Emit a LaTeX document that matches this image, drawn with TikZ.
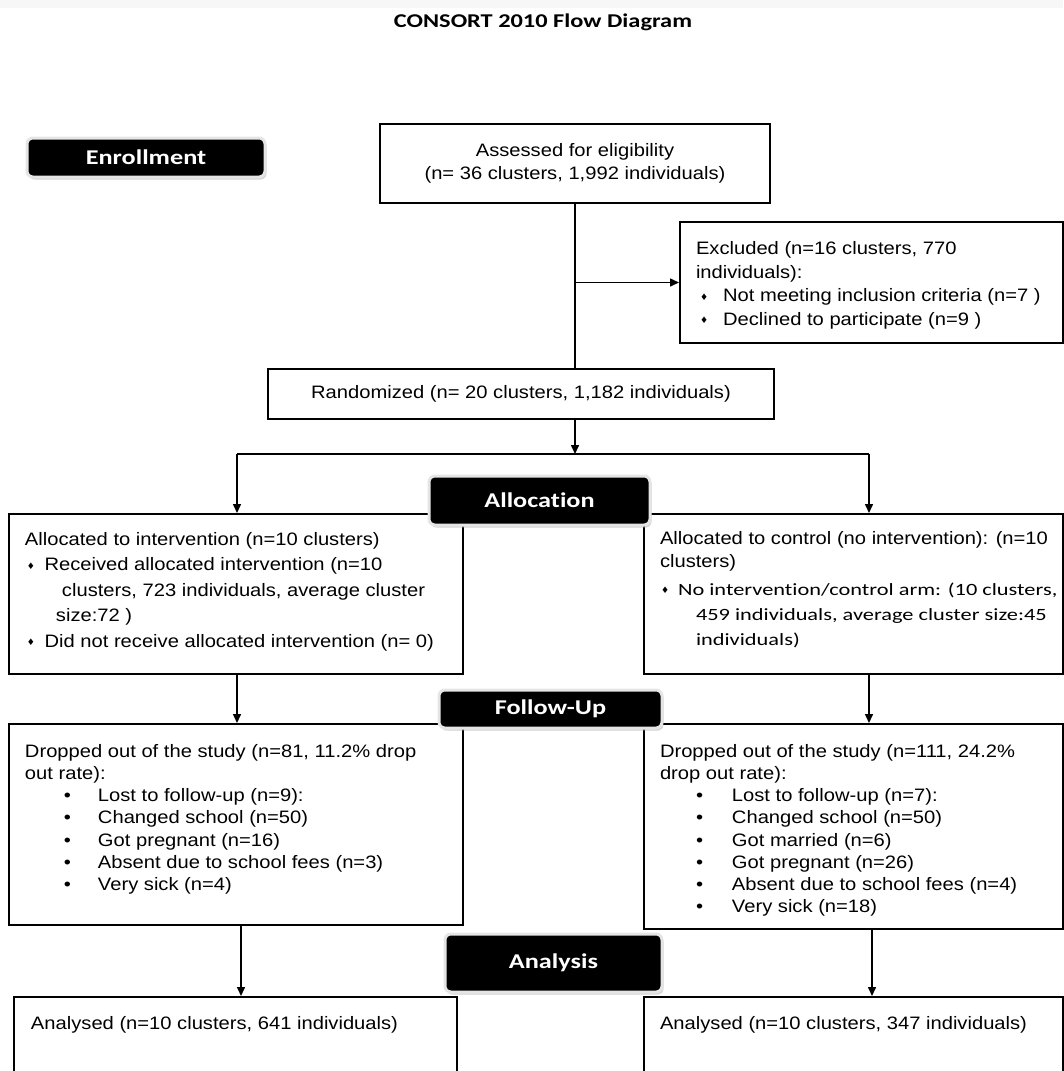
\documentclass[tikz,border=0pt]{standalone}
\usepackage{fontspec}
\setmainfont{Liberation Sans}[FakeStretch=1.12]
\newfontfamily\tabfont{Carlito}[FakeStretch=1.25,Ligatures=NoCommon]
\newfontfamily\armfont{Carlito}[FakeStretch=1.3,Ligatures=NoCommon]
\newfontfamily\symfont{DejaVu Sans}
\usetikzlibrary{positioning}
\usetikzlibrary{arrows.meta}
\usetikzlibrary{shadows}
\newcommand{\dia}{\raisebox{1.5pt}{\symfont\fontsize{9}{9}\selectfont ♦}}
\newcommand{\fubul}[3]% lead, bullet width, text
{\hspace*{#1pt}\makebox[#2pt][l]{•}#3}
\newcommand{\boxtext}[4]% left pad, width, height, text
{\hspace*{#1pt}\begin{minipage}[t][#3pt][t]{#2pt}\raggedright #4\end{minipage}}

\begin{document}
\begin{tikzpicture}[x=1pt,y=-1pt,line width=1.5pt,>={Triangle[length=9pt,width=8pt]}]
\tikzstyle{tab}=[fill=black,draw=gray!20,line width=3pt,rounded corners=6pt,
  drop shadow={shadow xshift=1.5pt,shadow yshift=-2.5pt,fill=gray!70},
  text=white,font=\tabfont\bfseries\fontsize{21}{21}\selectfont,inner sep=0pt]
\tikzstyle{flow}=[draw,line width=2pt,inner sep=0pt,font=\fontsize{18}{23}\selectfont]

\useasboundingbox (0,0) rectangle (1063,1071);
\fill[gray!6] (0,0) rectangle (1063,8); % faint band at the top

\draw (543,22) node[font=\tabfont\bfseries\fontsize{19.5}{20}\selectfont] (title) {CONSORT 2010 Flow Diagram}; % title

% enrollment
\draw (575,163.5) node[flow,minimum width=390,minimum height=79,align=center] (assess) {Assessed for eligibility\\(n= 36 clusters, 1,992 individuals)}; % assessed
\draw (679,221) node[flow,anchor=north west,inner ysep=19.3,font=\fontsize{18}{23.7}\selectfont] (excl) {\boxtext{16}{367}{82.4}{Excluded (n=16 clusters, 770\\
individuals):\\
\hspace*{4pt}\dia\hspace*{15pt}Not meeting inclusion criteria (n=7 )\\
\hspace*{4pt}\dia\hspace*{15pt}Declined to participate (n=9 )}}; % excluded
\draw (521,394) node[flow,minimum width=506,minimum height=50] (rand) {Randomized (n= 20 clusters, 1,182 individuals)}; % randomized

\coordinate (split) at (575,454);
\coordinate (splitL) at (237,454);
\coordinate (splitR) at (869,454);
\coordinate (downL) at (241,950);
\coordinate (downR) at (872,950);

% allocation
\draw (8,513) node[flow,anchor=north west,inner ysep=18.3,font=\fontsize{18}{25.5}\selectfont] (alint) {\boxtext{16}{438}{123.4}{Allocated to intervention (n=10 clusters)\\
\hspace*{2pt}\dia\hspace*{9.5pt}Received allocated intervention (n=10\\
\hspace*{37pt}clusters, 723 individuals, average cluster\\
\hspace*{31pt}size:72 )\\
\hspace*{2pt}\dia\hspace*{9.5pt}Did not receive allocated intervention (n= 0)}}; % intervention arm
\draw (643,513) node[flow,anchor=north west,inner ysep=17.3] (alctl) {\boxtext{16}{403}{125.4}{Allocated to control (no intervention): (n=10\\
clusters)\\[5pt]
{\armfont\fontsize{17.2}{23}\selectfont\hspace*{1pt}\dia\hspace*{9pt}No intervention/control arm: (10 clusters,\\[2pt]
\hspace*{36pt}459 individuals, average cluster size:45\\[2pt]
\hspace*{36pt}individuals)}}}; % control arm

% follow-up
\draw (8,723) node[flow,anchor=north west,inner ysep=20.3,font=\fontsize{18}{22.2}\selectfont] (fuint) {\boxtext{16}{438}{160.4}{Dropped out of the study (n=81, 11.2\% drop\\
out rate):\\
\fubul{39}{34}{Lost to follow-up (n=9):}\\
\fubul{39}{34}{Changed school (n=50)}\\
\fubul{39}{34}{Got pregnant (n=16)}\\
\fubul{39}{34}{Absent due to school fees (n=3)}\\
\fubul{39}{34}{Very sick (n=4)}}}; % dropped, intervention
\draw (643,723) node[flow,anchor=north west,inner ysep=20.3,font=\fontsize{18}{22.2}\selectfont] (fuctl) {\boxtext{16}{403}{164.4}{Dropped out of the study (n=111, 24.2\%\\
drop out rate):\\
\fubul{36}{36}{Lost to follow-up (n=7):}\\
\fubul{36}{36}{Changed school (n=50)}\\
\fubul{36}{36}{Got married (n=6)}\\
\fubul{36}{36}{Got pregnant (n=26)}\\
\fubul{36}{36}{Absent due to school fees (n=4)}\\
\fubul{36}{36}{Very sick (n=18)}}}; % dropped, control

% analysis
\draw (13,996) node[flow,anchor=north west,inner ysep=19.3] (anaint) {\boxtext{17}{426}{81.4}{Analysed (n=10 clusters, 641 individuals)}}; % analysed, intervention
\draw (643,996) node[flow,anchor=north west,inner ysep=19.3] (anactl) {\boxtext{16}{403}{81.4}{Analysed (n=10 clusters, 347 individuals)}}; % analysed, control

% connectors
\draw (assess.south) -- (rand.north -| assess.south);
\draw[->] (assess.south |- excl.west) -- (excl.west);
\draw[->] (rand.south -| split) -- (split);
\draw (splitL) -- (splitR);
\draw[->] (splitL) -- (splitL |- alint.north);
\draw[->] (splitR) -- (splitR |- alctl.north);
\draw[->] (alint.south -| splitL) -- (fuint.north -| splitL);
\draw[->] (alctl.south -| splitR) -- (fuctl.north -| splitR);
\draw[->] (fuint.south -| downL) -- (anaint.north -| downL);
\draw[->] (fuctl.south -| downR) -- (anactl.north -| downR);

% black tabs
\draw (146,157.5) node[tab,minimum width=238,minimum height=39] (enrol) {Enrollment};
\draw (539.5,500.5) node[tab,minimum width=221,minimum height=49] (alloc) {Allocation};
\draw (550.5,709) node[tab,minimum width=223,minimum height=38] (follow) {Follow-Up};
\draw (553.5,963) node[tab,minimum width=217,minimum height=58] (analysis) {Analysis};
\end{tikzpicture}
\end{document}
